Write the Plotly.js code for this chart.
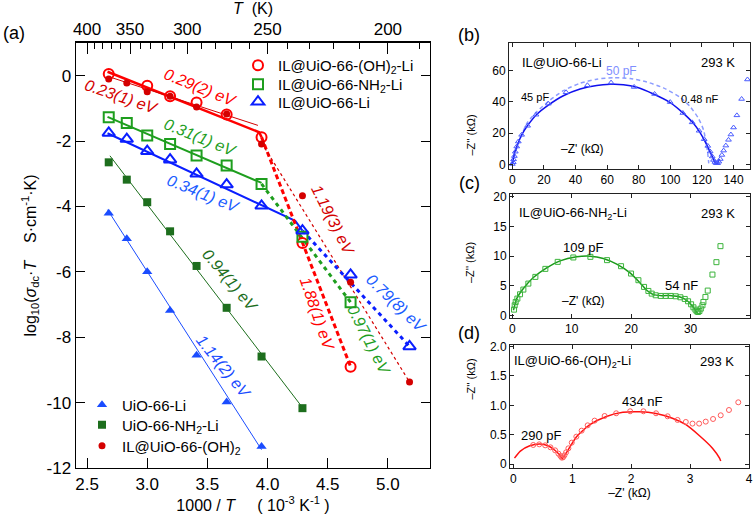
<!DOCTYPE html>
<html><head><meta charset="utf-8">
<script src="https://cdn.plot.ly/plotly-3.0.1.min.js"></script>
<style>html,body{margin:0;padding:0;background:#fff}</style>
</head><body><div id="chart" style="width:756px;height:518px"></div>
<script>
// ================= panel (a): Arrhenius data =================
const invT_OHLi = [2.68, 3.00, 3.19, 3.41, 3.66, 3.95, 4.29, 4.69];
const logS_OHLi = [0.05, -0.31, -0.63, -0.82, -1.19, -1.88, -5.12, -8.90];
const invT_OH = [2.68, 2.83, 3.00, 3.19, 3.41, 3.66, 3.95, 4.29, 4.69, 5.18];
const logS_OH = [-0.10, -0.22, -0.49, -0.63, -0.96, -1.17, -2.09, -3.67, -6.32, -9.37];
const invT_NH2IL = [2.68, 2.83, 3.00, 3.19, 3.41, 3.66, 3.95, 4.29, 4.69];
const logS_NH2IL = [-1.27, -1.45, -1.83, -2.09, -2.44, -2.75, -3.31, -4.93, -6.93];
const invT_LiIL = [2.68, 2.83, 3.00, 3.19, 3.41, 3.66, 3.95, 4.29, 4.69, 5.18];
const logS_LiIL = [-1.75, -1.94, -2.31, -2.57, -3.00, -3.33, -3.98, -4.74, -6.09, -8.28];
const invT_NH2 = [2.68, 2.83, 3.00, 3.19, 3.41, 3.66, 3.95, 4.29];
const logS_NH2 = [-2.65, -3.18, -3.87, -4.76, -5.82, -7.10, -8.59, -10.17];
const invT_Li = [2.68, 2.83, 3.00, 3.19, 3.41, 3.66, 3.95];
const logS_Li = [-4.21, -4.99, -6.00, -7.18, -8.55, -9.98, -11.34];

// fitted lines (end points)
const fitOHLi_x = [2.67, 3.93, 3.95], fitOHLi_y = [0.12, -1.73, -1.88];
const fitOH_x = [2.68, 3.92], fitOH_y = [-0.03, -1.52];
const fitNH2IL_x = [2.67, 3.95], fitNH2IL_y = [-1.26, -3.28];
const fitLiIL_x = [2.67, 4.23, 4.29], fitLiIL_y = [-1.76, -4.44, -4.74];
const fitNH2_x = [2.69, 4.29], fitNH2_y = [-2.45, -10.15];
const fitLi_x = [2.67, 3.95], fitLi_y = [-4.10, -11.44];
const dashOHLi_x = [3.95, 4.69], dashOHLi_y = [-1.88, -8.90];
const dashOH_x = [3.95, 5.18], dashOH_y = [-2.05, -9.37];
const dashNH2IL_x = [3.95, 4.69], dashNH2IL_y = [-3.31, -6.93];
const dashLiIL_x = [4.29, 5.18], dashLiIL_y = [-4.74, -8.28];

// activation energy labels
const eaText = ['0.29(2) eV','0.23(1) eV','0.31(1) eV','0.34(1) eV','0.94(1) eV','1.14(2) eV','1.19(3) eV','1.88(1) eV','0.97(1) eV','0.79(8) eV'];
const eaX = [3.44, 2.78, 3.44, 3.46, 3.69, 3.63, 4.54, 4.41, 4.84, 5.07];
const eaY = [-0.37, -0.65, -1.90, -3.61, -6.26, -8.91, -4.40, -7.28, -8.07, -6.97];
const eaAngle = [22, 19, 22, 22, 50, 51, 63, 71, 63, 44];
const eaColor = ['#ff0000','#d40000','#1e9e1e','#1a5cff','#1d6e1d','#1a4cff','#d40000','#ff0000','#1e9e1e','#1a5cff'];

const xTickVals = [2.5, 3.0, 3.5, 4.0, 4.5, 5.0];
const xTickText = ['2.5','3.0','3.5','4.0','4.5','5.0'];
const yTickVals = [0, -2, -4, -6, -8, -10, -12];
const yTickText = ['0','-2','-4','-6','-8','-10','-12'];
const topTickT = [400, 350, 300, 250, 200];
const topMinorT = [390,380,370,360,340,330,320,310,290,280,270,260,240,230,220,210,190];

// ================= panel (b): IL@UiO-66-Li impedance =================
const bZre = [0.0, 0.6, 0.8, 1.3, 1.9, 2.8, 3.8, 5.9, 9.7, 15.0, 22.8, 34.0, 47.5, 62.5, 77.1, 90.0, 99.9, 107.9, 113.8, 118.2, 121.4, 123.7, 125.2, 126.5, 127.3, 128.2, 129.0, 129.9, 130.7, 131.6, 132.6, 133.7, 135.1, 136.8, 138.3, 140.0, 142.1, 145.1, 148.8];
const bZim = [0.2, 1.3, 3.2, 5.3, 8.1, 11.4, 14.6, 18.9, 24.7, 31.8, 38.9, 46.2, 50.7, 52.4, 49.6, 45.1, 39.9, 32.9, 26.9, 21.5, 16.1, 11.8, 8.2, 5.0, 2.8, 1.5, 0.7, 0.7, 1.7, 3.4, 6.0, 8.8, 12.0, 15.7, 19.1, 23.6, 31.4, 41.9, 54.4];
const bFitRe = [0.0, 0.6, 1.3, 2.8, 5.9, 10.2, 15.4, 22.8, 32.3, 42.9, 53.4, 61.9, 70.3, 78.8, 89.3, 99.9, 108.3, 114.6, 118.8, 122.0, 124.8, 126.7, 127.9, 129.0, 129.8, 131.1];
const bFitIm = [0.0, 3.2, 7.0, 11.3, 18.8, 25.6, 32.0, 38.0, 44.0, 48.3, 50.6, 51.3, 51.1, 49.4, 45.1, 39.6, 32.7, 26.3, 20.3, 14.6, 8.8, 4.5, 1.8, 0.1, 0.7, 3.3];
const bDashRe = [0.0, 2.8, 9.1, 15.4, 23.9, 32.3, 42.9, 53.4, 64.0, 74.6, 85.1, 95.6, 106.2, 112.5, 117.8, 121.0, 122.7, 123.9, 124.3];
const bDashIm = [0.0, 10.3, 26.1, 33.7, 41.2, 47.2, 52.0, 54.6, 55.6, 55.0, 52.8, 49.0, 43.0, 37.0, 29.5, 22.0, 13.5, 4.9, 0.6];

// ================= panel (c): IL@UiO-66-NH2-Li impedance =================
const cZre = [0.29, 0.40, 0.57, 0.85, 1.30, 1.86, 2.70, 3.88, 5.56, 7.64, 10.27, 13.14, 15.94, 18.30, 19.98, 21.22, 22.17, 22.90, 23.46, 24.13, 24.98, 25.82, 26.66, 27.50, 28.29, 29.02, 29.58, 30.09, 30.48, 30.82, 31.04, 31.27, 31.49, 31.72, 32.00, 32.16, 32.50, 32.89, 33.68, 34.35, 35.03];
const cZim = [0.96, 1.69, 2.25, 2.82, 3.55, 4.34, 5.35, 6.48, 7.83, 9.01, 9.75, 9.86, 9.30, 8.28, 7.04, 5.92, 4.79, 4.11, 3.66, 3.38, 3.27, 3.27, 3.27, 3.21, 3.04, 2.76, 2.37, 1.86, 1.35, 0.96, 0.68, 0.56, 0.73, 1.13, 1.69, 2.25, 3.10, 4.17, 6.87, 8.96, 11.66];
const cFitRe = [0.19, 0.74, 1.86, 3.54, 5.78, 8.03, 10.83, 13.08, 15.32, 17.57, 19.81, 21.50, 22.62, 23.74, 25.14, 26.82, 28.23, 29.35, 30.19, 30.75, 31.14];
const cFitIm = [0.85, 2.82, 4.51, 6.37, 8.00, 9.18, 9.86, 9.97, 9.58, 8.62, 7.15, 5.46, 4.23, 3.49, 3.32, 3.32, 3.10, 2.54, 1.69, 0.96, 0.39];

// ================= panel (d): IL@UiO-66-(OH)2-Li impedance =================
const dZre = [0.338, 0.44, 0.541, 0.631, 0.71, 0.766, 0.80, 0.823, 0.845, 0.868, 0.896, 0.935, 0.992, 1.07, 1.16, 1.262, 1.38, 1.55, 1.746, 1.983, 2.208, 2.422, 2.619, 2.788, 2.928, 3.041, 3.154, 3.266, 3.39, 3.52, 3.66, 3.818];
const dZim = [0.324, 0.335, 0.318, 0.284, 0.233, 0.176, 0.136, 0.108, 0.114, 0.148, 0.199, 0.267, 0.364, 0.466, 0.568, 0.659, 0.739, 0.818, 0.864, 0.898, 0.898, 0.864, 0.813, 0.75, 0.716, 0.688, 0.688, 0.722, 0.767, 0.83, 0.92, 1.051];
const dFitRe = [0.02, 0.12, 0.28, 0.45, 0.59, 0.71, 0.79, 0.83, 0.90, 1.07, 1.30, 1.58, 1.86, 2.14, 2.42, 2.70, 2.93, 3.15, 3.38, 3.50, 3.52];
const dFitIm = [0.10, 0.22, 0.31, 0.34, 0.31, 0.23, 0.15, 0.09, 0.19, 0.46, 0.67, 0.81, 0.88, 0.89, 0.86, 0.78, 0.67, 0.49, 0.27, 0.10, 0.05];

// ================= build figure =================
const FONT = 'Liberation Sans, Arial, Helvetica, sans-serif';
const traces = [];
function line(x, y, color, width, dash, xa, ya, shape) {
  traces.push({x: x, y: y, type: 'scatter', mode: 'lines', xaxis: xa || 'x', yaxis: ya || 'y',
    line: {color: color, width: width, dash: dash || 'solid', shape: shape || 'linear', smoothing: 0.6},
    showlegend: false, hoverinfo: 'skip'});
}
// fit lines panel a
line(fitOHLi_x, fitOHLi_y, '#ff0000', 2.5);
line(fitOH_x, fitOH_y, '#d40000', 1);
line(fitNH2IL_x, fitNH2IL_y, '#1e9e1e', 2);
line(fitLiIL_x, fitLiIL_y, '#0a1eff', 2);
line(fitNH2_x, fitNH2_y, '#1d6e1d', 1);
line(fitLi_x, fitLi_y, '#1a4cff', 1);
line(dashOHLi_x, dashOHLi_y, '#ff0000', 3, '5px,3px');
line(dashOH_x, dashOH_y, '#d40000', 1.2, '3px,3px');
line(dashNH2IL_x, dashNH2IL_y, '#1e9e1e', 3, '4px,4px');
line(dashLiIL_x, dashLiIL_y, '#0a1eff', 3, '4px,4px');

function pts(x, y, name, symbol, size, color, lw, legend) {
  traces.push({x: x, y: y, type: 'scatter', mode: 'markers', name: name, legend: legend,
    marker: {symbol: symbol, size: size, color: color, line: {color: color, width: lw}},
    showlegend: true, hoverinfo: 'skip'});
}
pts(invT_OHLi, logS_OHLi, 'IL@UiO-66-(OH)<sub>2</sub>-Li', 'circle-open', 10, '#ff0000', 2, 'legend');
pts(invT_NH2IL, logS_NH2IL, 'IL@UiO-66-NH<sub>2</sub>-Li', 'square-open', 10, '#1e9e1e', 2, 'legend2');
pts(invT_LiIL, logS_LiIL, 'IL@UiO-66-Li', 'triangle-up-open', 11, '#0a1eff', 2, 'legend3');
pts(invT_Li, logS_Li, 'UiO-66-Li', 'triangle-up', 9, '#1a4cff', 0, 'legend4');
pts(invT_NH2, logS_NH2, 'UiO-66-NH<sub>2</sub>-Li', 'square', 8, '#1d6e1d', 0, 'legend5');
pts(invT_OH, logS_OH, 'IL@UiO-66-(OH)<sub>2</sub>', 'circle', 7, '#d40000', 0, 'legend6');
// carrier for the top temperature axis (draws nothing)
traces.push({x: [xTickVals[0]], y: [null], xaxis: 'x2', yaxis: 'y', type: 'scatter', mode: 'markers',
  showlegend: false, hoverinfo: 'skip', marker: {opacity: 0}});

// panel b
line(bDashRe, bDashIm, '#8c9cff', 1.5, '4px,3px', 'x3', 'y3', 'spline');
line(bFitRe, bFitIm, '#1010ee', 1.5, 'solid', 'x3', 'y3', 'spline');
traces.push({x: bZre, y: bZim, type: 'scatter', mode: 'markers', xaxis: 'x3', yaxis: 'y3', showlegend: false, hoverinfo: 'skip',
  marker: {symbol: 'triangle-up-open', size: 5, color: '#4a5cff', line: {width: 1, color: '#4a5cff'}}});
// panel c
line(cFitRe, cFitIm, '#1a9a1a', 1.5, 'solid', 'x4', 'y4', 'spline');
traces.push({x: cZre, y: cZim, type: 'scatter', mode: 'markers', xaxis: 'x4', yaxis: 'y4', showlegend: false, hoverinfo: 'skip',
  marker: {symbol: 'square-open', size: 5, color: '#3cb43c', line: {width: 1, color: '#3cb43c'}}});
// panel d
line(dFitRe, dFitIm, '#ff1010', 1.5, 'solid', 'x5', 'y5', 'spline');
traces.push({x: dZre, y: dZim, type: 'scatter', mode: 'markers', xaxis: 'x5', yaxis: 'y5', showlegend: false, hoverinfo: 'skip',
  marker: {symbol: 'circle-open', size: 5, color: '#ff5a5a', line: {width: 1, color: '#ff5a5a'}}});

const ann = [];
for (let i = 0; i < eaText.length; i++) {
  ann.push({x: eaX[i], y: eaY[i], xref: 'x', yref: 'y', text: '<i>' + eaText[i] + '</i>', showarrow: false,
    textangle: eaAngle[i], font: {family: FONT, size: 16, color: eaColor[i]}});
}
function pa(text, x, y, size, anchor) {
  ann.push({x: x / 756, y: 1 - y / 518, xref: 'paper', yref: 'paper', text: text, showarrow: false,
    xanchor: anchor || 'center', yanchor: 'middle', font: {family: FONT, size: size, color: '#000'}});
}
pa('(a)', 1, 33, 18, 'left');
pa('(b)', 469, 35, 18);
pa('(c)', 469, 183, 18);
pa('(d)', 469, 333, 18);
['y3','y4','y5'].forEach((ya, i) => {
  ann.push({x: 470 / 756, y: 1 - [113, 263, 402][i] / 518, xref: 'paper', yref: 'paper', text: '\u2013Z\'\' (k\u03a9)',
    showarrow: false, textangle: -90, font: {family: FONT, size: 11, color: '#000'}});
});
function da(text, x, y, xa, ya, size, color) {
  ann.push({x: x, y: y, xref: xa, yref: ya, text: text, showarrow: false, font: {family: FONT, size: size, color: color || '#000'}});
}
da('IL@UiO-66-Li', 31.5, 65.6, 'x3', 'y3', 13);
da('293 K', 130, 65.6, 'x3', 'y3', 13);
da('50 pF', 69.3, 59.8, 'x3', 'y3', 12, '#7f8fff');
da('45 pF', 14.4, 43.1, 'x3', 'y3', 11);
da('0.48 nF', 118.8, 41.9, 'x3', 'y3', 11);
da('\u2013Z\' (k\u03a9)', 44.7, 9.8, 'x3', 'y3', 12);
da('IL@UiO-66-NH<sub>2</sub>-Li', 10.2, 17.2, 'x4', 'y4', 13);
da('293 K', 34.6, 17.2, 'x4', 'y4', 13);
da('109 pF', 11.9, 11.5, 'x4', 'y4', 13);
da('54 nF', 28.5, 5.1, 'x4', 'y4', 13);
da('\u2013Z\' (k\u03a9)', 11.9, 2.5, 'x4', 'y4', 12);
da('IL@UiO-66-(OH)<sub>2</sub>-Li', 1.01, 1.74, 'x5', 'y5', 13);
da('293 K', 3.46, 1.74, 'x5', 'y5', 13);
da('434 nF', 2.19, 1.06, 'x5', 'y5', 13);
da('290 pF', 0.48, 0.49, 'x5', 'y5', 13);

const NB = '\u00a0';
const axBase = {showline: true, linecolor: '#000', linewidth: 1.5, ticks: 'inside', tickcolor: '#000', zeroline: false,
  showgrid: false, tickfont: {family: FONT, size: 17, color: '#000'}};
const smallAx = {showline: true, linecolor: '#222', linewidth: 1, ticks: 'inside', ticklen: 4, tickcolor: '#222', zeroline: false,
  showgrid: false, mirror: 'ticks', tickfont: {family: FONT, size: 12, color: '#000'}};
function leg(y, x) {
  return {x: x / 756, y: 1 - y / 518, xanchor: 'left', yanchor: 'middle', bgcolor: 'rgba(0,0,0,0)', borderwidth: 0,
    font: {family: FONT, size: 15, color: '#000'}, itemwidth: 30};
}
const xr = [2.408, 5.35];
const layout = {
  width: 756, height: 518, margin: {l: 0, r: 0, t: 0, b: 0}, paper_bgcolor: '#fff', plot_bgcolor: '#fff',
  font: {family: FONT, color: '#000'},
  xaxis: Object.assign({}, axBase, {domain: [0.10053, 0.56878], range: xr, anchor: 'y', mirror: true, ticklen: 10,
    tickvals: xTickVals, ticktext: xTickText,
    title: {text: '1000 / <i>T</i>' + NB.repeat(5) + '(' + NB + '10<sup>-3</sup> K<sup>-1</sup>' + NB + ')' + NB.repeat(6), font: {family: FONT, size: 16}, standoff: 6}}),
  xaxis2: Object.assign({}, axBase, {overlaying: 'x', side: 'top', anchor: 'y', range: xr, ticklen: 11,
    tickvals: topTickT.map(t => 1000 / t), ticktext: topTickT.map(String),
    minor: {tickvals: topMinorT.map(t => 1000 / t), ticks: 'inside', ticklen: 6, tickcolor: '#000'},
    title: {text: '<i>T</i>' + NB + ' (K)' + NB.repeat(5), font: {family: FONT, size: 16}, standoff: 2}}),
  yaxis: Object.assign({}, axBase, {domain: [0.09653, 0.91699], range: [-12, 1], anchor: 'x', mirror: 'ticks', ticklen: 9,
    tickvals: yTickVals, ticktext: yTickText,
    title: {text: 'log<sub>10</sub>(<i>\u03c3</i><sub>dc</sub>\u00b7<i>T</i>' + NB.repeat(4) + 'S\u00b7cm<sup>-1</sup>\u00b7K)' + NB.repeat(6), font: {family: FONT, size: 16}, standoff: 6}}),
  xaxis3: Object.assign({}, smallAx, {domain: [0.67328, 0.99206], range: [-2.1, 150.4], anchor: 'y3', tickvals: [0,20,40,60,80,100,120,140]}),
  yaxis3: Object.assign({}, smallAx, {domain: [0.67375, 0.91699], range: [-3, 77.8], anchor: 'x3', tickvals: [0,20,40,60]}),
  xaxis4: Object.assign({}, smallAx, {domain: [0.67460, 0.99206], range: [-0.39, 40.0], anchor: 'y4', tickvals: [0,10,20,30,40]}),
  yaxis4: Object.assign({}, smallAx, {domain: [0.38610, 0.62548], range: [-0.45, 20.45], anchor: 'x4', tickvals: [0,5,10,15,20]}),
  xaxis5: Object.assign({}, smallAx, {domain: [0.67460, 0.99074], range: [-0.056, 4.0], anchor: 'y5', tickvals: [0,1,2,3,4],
    title: {text: '\u2013Z\' (k\u03a9)', font: {family: FONT, size: 12}, standoff: 2}}),
  yaxis5: Object.assign({}, smallAx, {domain: [0.09653, 0.33398], range: [-0.068, 2.027], anchor: 'x5', tickvals: [0,0.5,1,1.5,2], ticktext: ['0','0.5','1.0','1.5','2.0']}),
  legend: leg(65.5, 238), legend2: leg(84.5, 238), legend3: leg(102, 238),
  legend4: leg(405, 82), legend5: leg(425, 82), legend6: leg(446, 82),
  annotations: ann, showlegend: true
};
Plotly.newPlot('chart', traces, layout, {staticPlot: true, displayModeBar: false});
</script></body></html>
